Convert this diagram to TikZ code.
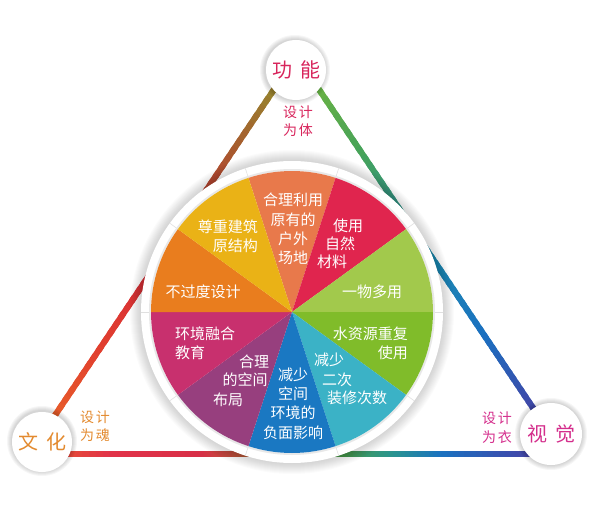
\documentclass[tikz,border=0pt]{standalone}
\usepackage{fontspec}
\setmainfont{Noto Sans CJK SC}
\usetikzlibrary{calc}
% edge gradient colours
\definecolor{lA0}{HTML}{8E9A2E}
\definecolor{lA1}{HTML}{A9572E}
\definecolor{lA2}{HTML}{D42A3A}
\definecolor{lA3}{HTML}{E2402E}
\definecolor{lA4}{HTML}{EA6E28}
\definecolor{bB0}{HTML}{E8602A}
\definecolor{bB1}{HTML}{E23348}
\definecolor{bB2}{HTML}{D82F47}
\definecolor{bB3}{HTML}{B85E38}
\definecolor{bB4}{HTML}{8A7A40}
\definecolor{bB5}{HTML}{4A9C48}
\definecolor{bB6}{HTML}{2A9490}
\definecolor{bB7}{HTML}{1A72C0}
\definecolor{bB8}{HTML}{3A4EAE}
\definecolor{bB9}{HTML}{5A3A98}
\definecolor{rC0}{HTML}{78B83A}
\definecolor{rC1}{HTML}{45A25A}
\definecolor{rC2}{HTML}{1F8CB0}
\definecolor{rC3}{HTML}{1A70C0}
\definecolor{rC4}{HTML}{3F48A8}
\definecolor{rC5}{HTML}{5A3A98}
% slice colours
\definecolor{sSalmon}{HTML}{E8794B}
\definecolor{sRed}{HTML}{E0254E}
\definecolor{sLime}{HTML}{A2C94C}
\definecolor{sGreen}{HTML}{80BC2A}
\definecolor{sTeal}{HTML}{3BB2C6}
\definecolor{sBlue}{HTML}{1A78C2}
\definecolor{sPlum}{HTML}{973F7E}
\definecolor{sMagenta}{HTML}{C8306E}
\definecolor{sOrange}{HTML}{E97D1E}
\definecolor{sGold}{HTML}{EAB216}
% label colours
\definecolor{cPink}{HTML}{D8255C}
\definecolor{cOrange}{HTML}{E38A2F}
\definecolor{cMag}{HTML}{D42E8C}
% gradient segment: #1 P, #2 Q, #3 t0, #4 t1, #5 c0, #6 c1
\newcommand\gseg[6]{%
  \foreach \i in {1,...,12}{%
    \pgfmathsetmacro\ta{#3+(#4-#3)*(\i-1)/12}%
    \pgfmathsetmacro\tb{#3+(#4-#3)*(\i+0.6)/12}%
    \pgfmathtruncatemacro\pc{100-100*(\i-0.5)/12}%
    \draw[edge, draw=#5!\pc!#6] ($(#1)!\ta!(#2)$) -- ($(#1)!\tb!(#2)$);
  }}
\begin{document}
\begin{tikzpicture}[x=1pt,y=-1pt,
  edge/.style={line width=6pt, line cap=butt},
  pietext/.style={text=white, font=\fontsize{15}{19.3}\selectfont, inner sep=0pt, align=center},
  biglabel/.style={circle, fill=white, inner sep=0pt, font=\fontsize{20}{24}\selectfont},
  smalllabel/.style={font=\fontsize{14}{18.5}\selectfont, inner sep=0pt, align=center},
]
\useasboundingbox (0,0) rectangle (603,511);
\coordinate (A) at (296.5,56);
\coordinate (B) at (29,454);
\coordinate (C) at (564,454);
\coordinate (O) at (292,312);

% triangle edges with colour gradients
\gseg{A}{B}{0}{0.25}{lA0}{lA1}
\gseg{A}{B}{0.25}{0.5}{lA1}{lA2}
\gseg{A}{B}{0.5}{0.75}{lA2}{lA3}
\gseg{A}{B}{0.75}{1}{lA3}{lA4}
\gseg{B}{C}{0}{0.15}{bB0}{bB1}
\gseg{B}{C}{0.15}{0.32}{bB1}{bB2}
\gseg{B}{C}{0.32}{0.4}{bB2}{bB3}
\gseg{B}{C}{0.4}{0.5}{bB3}{bB4}
\gseg{B}{C}{0.5}{0.58}{bB4}{bB5}
\gseg{B}{C}{0.58}{0.68}{bB5}{bB6}
\gseg{B}{C}{0.68}{0.77}{bB6}{bB7}
\gseg{B}{C}{0.77}{0.9}{bB7}{bB8}
\gseg{B}{C}{0.9}{1}{bB8}{bB9}
\gseg{A}{C}{0}{0.25}{rC0}{rC1}
\gseg{A}{C}{0.25}{0.5}{rC1}{rC2}
\gseg{A}{C}{0.5}{0.7}{rC2}{rC3}
\gseg{A}{C}{0.7}{0.88}{rC3}{rC4}
\gseg{A}{C}{0.88}{1}{rC4}{rC5}

% big disc: shadow, white ring
\foreach \r in {1,...,12} \fill[black, opacity=0.016] (O) circle (150+\r);
\fill[white] (O) circle (151);
\foreach \a in {0,36,...,324}
  \draw[black!12, line width=0.6pt] ($(O)+(\a:141)$) -- ($(O)+(\a:151)$);
\draw[black!9, line width=2pt] (O) circle (142);

% pie slices
\foreach \s/\c in {252/sSalmon, 288/sRed, 324/sLime, 0/sGreen, 36/sTeal,
                   72/sBlue, 108/sPlum, 144/sMagenta, 180/sOrange, 216/sGold}
  \fill[\c] (O) -- ($(O)+(\s:141)$) arc[start angle=\s, end angle=\s+36, radius=141] -- cycle;

% slice texts
\node[pietext] (t1) at (293,229) {合理利用\\原有的\\户外\\场地};
\node[pietext] (t2a) at (348,226) {使用};
\node[pietext] (t2b) at (340,244) {自然};
\node[pietext] (t2c) at (332,262) {材料};
\node[pietext] (t3) at (372,292) {一物多用};
\node[pietext, align=right, anchor=east] (t4) at (408,343) {水资源重复\\使用};
\node[pietext] (t5a) at (329,360) {减少};
\node[pietext] (t5b) at (337,380) {二次};
\node[pietext] (t5c) at (357,398) {装修次数};
\node[pietext] (t6) at (293,403.5) {减少\\空间\\环境的\\负面影响};
\node[pietext] (t7a) at (254,362) {合理};
\node[pietext] (t7b) at (245,380) {的空间};
\node[pietext] (t7c) at (228,400) {布局};
\node[pietext, align=left, anchor=west] (t8) at (175,343) {环境融合\\教育};
\node[pietext] (t9) at (203,292) {不过度设计};
\node[pietext, align=right, anchor=east] (t10) at (258,236) {尊重建筑\\原结构};

% vertex circles
\foreach \p/\r in {{(295,70)}/30, {(42,441)}/30, {(551,434)}/31}
  \foreach \k in {1,...,5} \fill[black, opacity=0.035] \p circle (\r+\k);
\node[biglabel, minimum size=60pt, text=cPink] (gongneng) at (296,70) {功\hspace{8pt}能};
\node[biglabel, minimum size=60pt, text=cOrange] (wenhua) at (42,442) {文\hspace{8pt}化};
\node[biglabel, minimum size=62pt, text=cMag] (shijue) at (551,434) {视\hspace{8pt}觉};

% side labels
\node[smalllabel, text=cPink] (l1) at (298,121) {设\hspace{2pt}计\\为\hspace{2pt}体};
\node[smalllabel, text=cOrange] (l2) at (95,426) {设\hspace{2pt}计\\为\hspace{2pt}魂};
\node[smalllabel, text=cMag] (l3) at (497,427.5) {设\hspace{2pt}计\\为\hspace{2pt}衣};
\end{tikzpicture}
\end{document}
